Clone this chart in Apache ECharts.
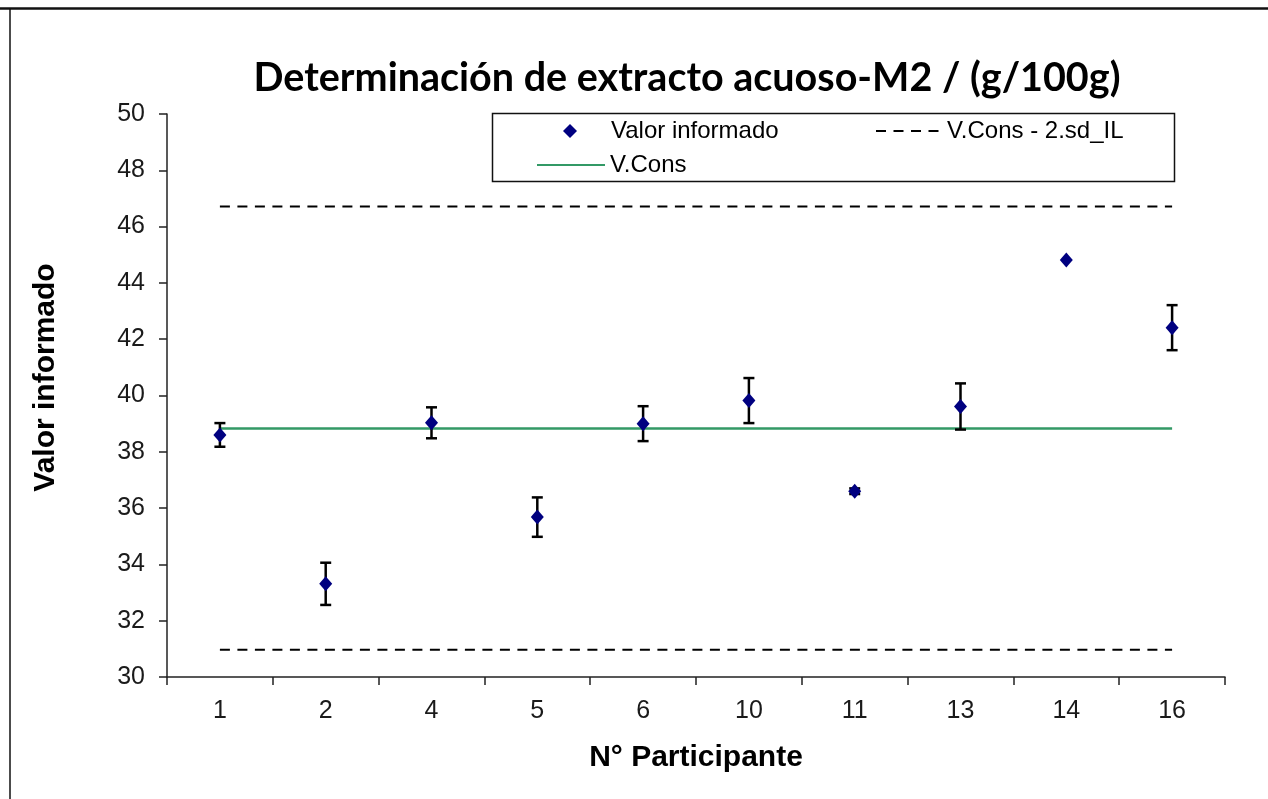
<!DOCTYPE html>
<html>
<head>
<meta charset="utf-8">
<script src="https://cdn.jsdelivr.net/npm/echarts@6/dist/echarts.min.js"></script>
<style>
html,body{margin:0;padding:0;background:#fff;}
#c{width:1268px;height:799px;}
</style>
</head>
<body>
<div id="c"></div>
<script>
// ---- data ----
var participants = ['1', '2', '4', '5', '6', '10', '11', '13', '14', '16'];
var reported = [38.6, 33.31, 39.03, 35.68, 39.0, 39.82, 36.6, 39.61, 44.81, 42.41];
var errHalf = [0.42, 0.75, 0.55, 0.7, 0.62, 0.8, 0.1, 0.82, 0, 0.8];
var vCons = 38.83;
var upperLimit = 46.71;
var lowerLimit = 30.97;
var yTicks = { min: 30, max: 50, interval: 2 };

// ---- derived ----
var consLine = participants.map(function () { return vCons; });
var upperLine = participants.map(function () { return upperLimit; });
var lowerLine = participants.map(function () { return lowerLimit; });
var errData = [];
reported.forEach(function (v, i) {
  if (errHalf[i] > 0) errData.push([i, v - errHalf[i], v + errHalf[i]]);
});

var FONT = '"Liberation Sans", Arial, sans-serif';
var chart = echarts.init(document.getElementById('c'), null, { renderer: 'canvas' });

chart.setOption({
  animation: false,
  backgroundColor: '#ffffff',
  title: {
    text: 'Determinación de extracto acuoso-M2 / (g/100g)',
    left: 682,
    top: 53,
    textAlign: 'center',
    textStyle: { fontFamily: 'Lato, "Open Sans", sans-serif', fontWeight: 'bold', fontSize: 39.5, color: '#000' }
  },
  grid: { left: 167, right: 43, top: 114, bottom: 122, containLabel: false },
  legend: [
    {
      data: [{ name: 'Valor informado', icon: 'diamond' }], left: 563, top: 119, padding: 0,
      itemWidth: 14, itemHeight: 14, itemGap: 5, selectedMode: false,
      itemStyle: { opacity: 1 },
      textStyle: { fontFamily: FONT, fontSize: 24, color: '#000', padding: [0, 0, 0, 29] }
    },
    {
      data: ['V.Cons - 2.sd_IL'], left: 875, top: 119, padding: 0,
      itemWidth: 66, itemHeight: 14, itemGap: 5, selectedMode: false,
      itemStyle: { opacity: 0 },
      textStyle: { fontFamily: FONT, fontSize: 24, color: '#000' }
    },
    {
      data: ['V.Cons'], left: 536, top: 153, padding: 0,
      itemWidth: 68, itemHeight: 14, itemGap: 5, selectedMode: false,
      itemStyle: { opacity: 0 },
      textStyle: { fontFamily: FONT, fontSize: 24, color: '#000' }
    }
  ],
  xAxis: {
    type: 'category',
    data: participants,
    boundaryGap: true,
    name: 'N° Participante',
    nameLocation: 'middle',
    nameGap: 66,
    nameTextStyle: { fontFamily: FONT, fontWeight: 'bold', fontSize: 30, color: '#000' },
    axisLine: { lineStyle: { color: '#222', width: 1.5 } },
    axisTick: { show: true, inside: false, length: 8, alignWithLabel: false, lineStyle: { color: '#222', width: 1.5 } },
    axisLabel: { fontFamily: FONT, fontSize: 25, color: '#1a1a1a', margin: 22 },
    splitLine: { show: false }
  },
  yAxis: {
    type: 'value',
    min: yTicks.min, max: yTicks.max, interval: yTicks.interval,
    name: 'Valor informado',
    nameLocation: 'middle',
    nameGap: 106,
    nameTextStyle: { fontFamily: FONT, fontWeight: 'bold', fontSize: 30, color: '#000', padding: [0, 0, 0, 36] },
    axisLine: { show: true, lineStyle: { color: '#222', width: 1.5 } },
    axisTick: { show: true, inside: false, length: 8, lineStyle: { color: '#222', width: 1.5 } },
    axisLabel: { fontFamily: FONT, fontSize: 25, color: '#1a1a1a', margin: 22 },
    splitLine: { show: false }
  },
  series: [
    {
      name: 'V.Cons + 2.sd_IL',
      type: 'line',
      data: upperLine,
      symbol: 'none',
      lineStyle: { color: '#000', width: 2, type: [10, 7.5] },
      silent: true, z: 2
    },
    {
      name: 'V.Cons - 2.sd_IL',
      type: 'line',
      data: lowerLine,
      symbol: 'none',
      itemStyle: { color: '#000' },
      lineStyle: { color: '#000', width: 2, type: [10, 7.5] },
      silent: true, z: 2
    },
    {
      name: 'V.Cons',
      type: 'line',
      data: consLine,
      symbol: 'none',
      itemStyle: { color: '#339966' },
      lineStyle: { color: '#339966', width: 2.5 },
      silent: true, z: 2
    },
    {
      name: 'Error',
      type: 'custom',
      data: errData,
      z: 3,
      silent: true,
      renderItem: function (params, api) {
        var x = api.value(0);
        var lo = api.coord([x, api.value(1)]);
        var hi = api.coord([x, api.value(2)]);
        var cw = 5.5;
        var st = { stroke: '#000', lineWidth: 2.5 };
        return {
          type: 'group',
          children: [
            { type: 'line', shape: { x1: lo[0], y1: lo[1], x2: hi[0], y2: hi[1] }, style: st },
            { type: 'line', shape: { x1: lo[0] - cw, y1: lo[1], x2: lo[0] + cw, y2: lo[1] }, style: st },
            { type: 'line', shape: { x1: hi[0] - cw, y1: hi[1], x2: hi[0] + cw, y2: hi[1] }, style: st }
          ]
        };
      }
    },
    {
      name: 'Valor informado',
      type: 'scatter',
      data: reported,
      symbol: 'diamond',
      symbolSize: [13, 15],
      itemStyle: { color: '#000080', opacity: 1 },
      z: 4
    }
  ],
  graphic: [
    { type: 'line', shape: { x1: 0, y1: 8.5, x2: 1268, y2: 8.5 }, style: { stroke: '#111', lineWidth: 2.5 }, silent: true },
    { type: 'line', shape: { x1: 10, y1: 8, x2: 10, y2: 799 }, style: { stroke: '#111', lineWidth: 1.5 }, silent: true },
    { type: 'rect', shape: { x: 492.5, y: 113.5, width: 682, height: 68 }, style: { fill: 'none', stroke: '#111', lineWidth: 1.5 }, silent: true, z: 10 }
  ]
});
</script>
</body>
</html>
